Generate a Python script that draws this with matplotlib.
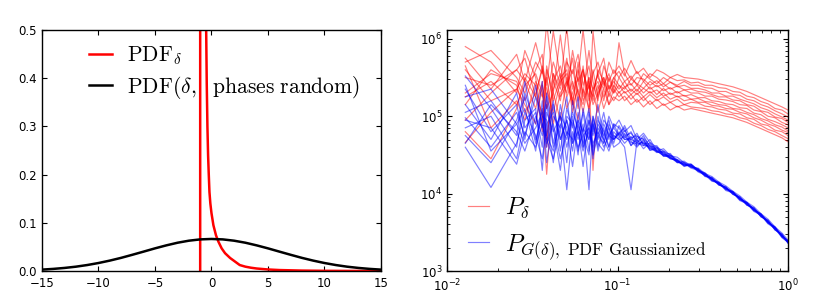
import numpy as np
import matplotlib
matplotlib.use('Agg')
import matplotlib.pyplot as plt

plt.rcParams['mathtext.fontset'] = 'cm'
plt.rcParams['font.family'] = ['DejaVu Sans']

# --- left panel: PDFs ---
pdf_x = [-15, -14, -13, -12, -11, -10, -9, -8, -7, -6, -5, -4, -3, -2, -1, 0,
         1, 2, 3, 4, 5, 6, 7, 8, 9, 10, 11, 12, 13, 14, 15]
pdf_gauss = [0.0029, 0.0044, 0.0064, 0.0090, 0.0124, 0.0166, 0.0216, 0.0273, 0.0337,
             0.0403, 0.0470, 0.0532, 0.0587, 0.0629, 0.0656, 0.0665, 0.0656, 0.0629,
             0.0587, 0.0532, 0.0470, 0.0403, 0.0337, 0.0273, 0.0216, 0.0166, 0.0124,
             0.0090, 0.0064, 0.0044, 0.0029]

delta_x = [-1.0, -0.995, -0.9, -0.7, -0.55, -0.47, -0.42, -0.36, -0.3, -0.24, -0.18,
           -0.1, 0.0, 0.17, 0.4, 0.61, 0.9, 1.2, 1.65, 2.0, 2.5, 3.0, 3.5, 4.0, 5.0,
           6.0, 8.0, 10.0, 12.0, 15.0]
pdf_delta = [0.0, 6.0, 2.0, 0.9, 0.62, 0.5, 0.39, 0.30, 0.24, 0.2, 0.164,
             0.14, 0.12, 0.095, 0.074, 0.061, 0.047, 0.037, 0.027, 0.021, 0.0124,
             0.009, 0.0068, 0.0052, 0.0032, 0.002, 0.0009, 0.0004, 0.0002, 0.0001]

# --- right panel: power spectra, log10(P) per line ---
k = [0.0128, 0.0181, 0.0256, 0.0286, 0.0331, 0.0362, 0.0384, 0.0420, 0.0462, 0.0504,
     0.0545, 0.0587, 0.0628, 0.0680, 0.0718, 0.0768, 0.0830, 0.0890, 0.0950, 0.102,
     0.110, 0.120, 0.130, 0.142, 0.155, 0.170, 0.186, 0.204, 0.224, 0.246, 0.270,
     0.297, 0.326, 0.358, 0.393, 0.432, 0.475, 0.522, 0.574, 0.631, 0.694, 0.763,
     0.839, 0.922, 1.0]

logP_red = [
    [5.90, 5.70, 5.30, 5.85, 5.50, 4.95, 5.60, 5.30, 6.05, 5.40, 5.75, 5.20, 5.65, 5.05, 6.10, 5.50, 5.35, 5.70, 5.55,
     5.65, 5.52, 5.72, 5.55, 5.62, 5.50, 5.60, 5.56, 5.50, 5.54, 5.50, 5.49,
     5.48, 5.46, 5.44, 5.42, 5.40, 5.38, 5.35, 5.32, 5.28, 5.24, 5.20, 5.16, 5.12, 5.08],
    [5.75, 5.35, 5.80, 5.45, 5.95, 5.60, 5.25, 5.70, 5.40, 6.15, 5.35, 5.60, 5.30, 5.85, 5.45, 5.20, 5.65, 5.45, 5.60,
     5.50, 5.62, 5.48, 5.58, 5.45, 5.55, 5.50, 5.42, 5.50, 5.46, 5.47, 5.43,
     5.44, 5.40, 5.40, 5.37, 5.36, 5.32, 5.31, 5.26, 5.24, 5.19, 5.16, 5.10, 5.08, 5.03],
    [5.70, 5.85, 5.50, 5.30, 5.70, 5.55, 6.20, 5.45, 5.20, 5.70, 5.55, 5.80, 5.40, 5.65, 5.30, 5.55, 5.75, 5.35, 5.50,
     5.58, 5.45, 5.52, 5.40, 5.55, 5.48, 5.42, 5.50, 5.44, 5.40, 5.45, 5.40,
     5.40, 5.37, 5.36, 5.32, 5.32, 5.28, 5.27, 5.22, 5.20, 5.15, 5.12, 5.07, 5.03, 4.99],
    [5.50, 5.40, 5.60, 5.75, 5.25, 5.65, 5.40, 6.10, 5.50, 5.30, 5.85, 5.45, 5.60, 5.25, 5.55, 5.70, 5.40, 5.55, 5.35,
     5.95, 5.55, 5.40, 5.50, 5.48, 5.40, 5.46, 5.38, 5.44, 5.38, 5.40, 5.36,
     5.36, 5.34, 5.30, 5.30, 5.26, 5.26, 5.22, 5.19, 5.16, 5.11, 5.08, 5.03, 4.99, 4.95],
    [5.30, 5.55, 5.45, 5.20, 5.60, 5.80, 5.10, 5.55, 5.35, 5.75, 5.20, 5.50, 6.12, 5.40, 5.25, 5.60, 5.45, 5.30, 5.50,
     5.40, 5.35, 5.48, 5.42, 5.36, 5.45, 5.38, 5.42, 5.35, 5.39, 5.34, 5.35,
     5.32, 5.31, 5.28, 5.25, 5.25, 5.21, 5.20, 5.15, 5.13, 5.07, 5.05, 4.99, 4.97, 4.92],
    [5.60, 5.20, 5.35, 5.55, 5.40, 4.80, 5.65, 5.20, 5.50, 5.60, 5.15, 5.70, 5.25, 5.50, 5.35, 5.45, 5.20, 5.50, 5.30,
     5.50, 5.38, 5.42, 5.32, 5.45, 5.35, 5.40, 5.33, 5.37, 5.30, 5.34, 5.30,
     5.30, 5.26, 5.26, 5.22, 5.21, 5.19, 5.15, 5.14, 5.08, 5.06, 5.00, 4.98, 4.92, 4.89],
    [5.25, 5.45, 5.15, 5.40, 5.55, 5.30, 4.70, 5.45, 5.65, 5.25, 5.45, 5.10, 5.55, 5.35, 5.60, 5.25, 5.50, 5.35, 5.45,
     5.35, 5.45, 5.32, 5.40, 5.30, 5.38, 5.28, 5.36, 5.28, 5.32, 5.26, 5.28,
     5.24, 5.24, 5.20, 5.19, 5.16, 5.15, 5.11, 5.10, 5.04, 5.02, 4.96, 4.93, 4.89, 4.85],
    [5.15, 5.60, 5.40, 5.05, 5.30, 5.60, 5.35, 5.05, 5.45, 5.55, 5.05, 5.40, 5.60, 5.20, 5.35, 5.55, 5.25, 5.40, 5.30,
     5.40, 5.30, 5.35, 5.28, 5.36, 5.30, 5.34, 5.26, 5.30, 5.25, 5.27, 5.22,
     5.23, 5.19, 5.18, 5.15, 5.14, 5.10, 5.09, 5.05, 5.02, 4.97, 4.94, 4.89, 4.86, 4.81],
    [4.95, 5.30, 5.60, 5.45, 5.10, 5.45, 4.60, 5.55, 5.25, 5.40, 5.60, 5.30, 5.15, 5.50, 4.30, 5.35, 5.50, 5.25, 5.40,
     5.30, 5.38, 5.28, 5.35, 5.25, 5.32, 5.24, 5.30, 5.22, 5.26, 5.20, 5.22,
     5.18, 5.18, 5.14, 5.13, 5.10, 5.09, 5.05, 5.03, 4.98, 4.95, 4.90, 4.87, 4.82, 4.79],
    [4.80, 4.45, 5.10, 5.50, 5.25, 5.05, 4.25, 5.35, 5.55, 5.10, 5.30, 5.50, 5.20, 5.40, 5.15, 5.30, 5.45, 5.15, 5.35,
     5.25, 5.32, 5.22, 5.30, 5.20, 5.28, 5.20, 5.25, 5.18, 5.22, 5.15, 5.18,
     5.17, 5.13, 5.12, 5.09, 5.08, 5.04, 5.03, 4.98, 4.96, 4.90, 4.88, 4.82, 4.80, 4.75],
    [5.65, 4.85, 5.20, 4.95, 5.45, 5.25, 5.50, 4.90, 5.30, 5.45, 5.15, 5.35, 5.05, 5.45, 5.20, 5.40, 5.10, 5.30, 5.20,
     5.32, 5.20, 5.28, 5.18, 5.25, 5.15, 5.22, 5.14, 5.18, 5.12, 5.15, 5.12,
     5.11, 5.10, 5.07, 5.06, 5.03, 5.02, 4.98, 4.96, 4.91, 4.88, 4.83, 4.80, 4.75, 4.71],
    [4.66, 5.05, 5.35, 5.15, 4.90, 5.40, 5.10, 5.30, 4.95, 5.50, 5.20, 4.95, 5.35, 5.10, 5.30, 5.05, 5.35, 5.15, 5.25,
     5.20, 5.26, 5.15, 5.22, 5.12, 5.20, 5.10, 5.16, 5.08, 5.13, 5.08, 5.10,
     5.08, 5.06, 5.04, 5.02, 5.00, 4.98, 4.95, 4.92, 4.88, 4.84, 4.80, 4.76, 4.72, 4.67],
]

logP_blue = [
    [5.52, 5.10, 4.60, 5.30, 4.90, 5.45, 4.75, 5.20, 4.55, 5.10, 4.85, 5.25, 4.60, 5.05, 4.80, 5.15, 4.70, 5.00, 4.85,
     4.95, 4.80, 4.88, 4.70, 4.78, 4.66, 4.60, 4.55, 4.50, 4.44, 4.40, 4.34,
     4.33, 4.26, 4.22, 4.15, 4.10, 4.03, 3.97, 3.89, 3.83, 3.74, 3.67, 3.57, 3.49, 3.40],
    [5.35, 4.80, 5.15, 4.70, 5.40, 4.85, 5.25, 4.65, 5.05, 4.40, 5.20, 4.75, 5.05, 4.55, 5.00, 4.75, 5.05, 4.70, 4.90,
     4.75, 4.88, 4.70, 4.78, 4.62, 4.70, 4.55, 4.58, 4.49, 4.47, 4.40, 4.38,
     4.30, 4.27, 4.18, 4.15, 4.06, 4.03, 3.93, 3.89, 3.79, 3.74, 3.63, 3.57, 3.45, 3.39],
    [5.25, 5.35, 4.90, 5.10, 4.55, 5.20, 4.40, 5.00, 4.85, 5.25, 4.65, 4.95, 4.80, 5.10, 4.45, 4.95, 4.80, 4.60, 4.90,
     4.85, 4.72, 4.80, 4.65, 4.75, 4.60, 4.62, 4.50, 4.52, 4.40, 4.42, 4.35,
     4.32, 4.24, 4.20, 4.12, 4.08, 4.00, 3.95, 3.86, 3.81, 3.71, 3.65, 3.54, 3.47, 3.37],
    [5.15, 4.70, 5.30, 4.85, 5.05, 4.60, 5.30, 4.85, 4.30, 5.00, 4.90, 4.50, 5.10, 4.70, 4.95, 4.60, 4.90, 4.75, 4.70,
     4.78, 4.85, 4.62, 4.74, 4.70, 4.58, 4.60, 4.48, 4.50, 4.42, 4.38, 4.36,
     4.29, 4.26, 4.17, 4.14, 4.05, 4.02, 3.92, 3.88, 3.78, 3.73, 3.62, 3.56, 3.44, 3.38],
    [5.05, 5.20, 4.75, 5.45, 4.70, 5.00, 4.95, 4.40, 5.15, 4.75, 5.05, 4.85, 4.35, 4.95, 4.75, 5.00, 4.65, 4.90, 4.75,
     4.70, 4.60, 4.05, 4.68, 4.72, 4.62, 4.54, 4.54, 4.46, 4.43, 4.37, 4.38,
     4.31, 4.23, 4.20, 4.11, 4.09, 3.99, 3.96, 3.85, 3.82, 3.70, 3.66, 3.53, 3.48, 3.36],
    [4.98, 4.60, 5.05, 4.75, 5.25, 4.90, 4.60, 5.15, 4.70, 4.95, 4.55, 5.05, 4.75, 4.50, 5.00, 4.70, 4.95, 4.85, 4.65,
     4.88, 4.75, 4.78, 4.68, 4.65, 4.64, 4.56, 4.49, 4.48, 4.41, 4.39, 4.33,
     4.30, 4.25, 4.19, 4.13, 4.07, 4.02, 3.94, 3.88, 3.80, 3.73, 3.64, 3.56, 3.46, 3.39],
    [4.85, 5.00, 4.45, 4.95, 5.10, 4.30, 5.05, 4.80, 5.00, 4.60, 4.95, 4.70, 4.90, 4.05, 4.90, 4.55, 4.85, 4.60, 4.80,
     4.72, 4.82, 4.68, 4.60, 4.70, 4.56, 4.58, 4.51, 4.45, 4.44, 4.36, 4.37,
     4.28, 4.24, 4.16, 4.14, 4.04, 4.01, 3.91, 3.87, 3.77, 3.72, 3.61, 3.55, 3.43, 3.37],
    [4.75, 4.40, 4.95, 5.25, 4.65, 5.10, 4.75, 4.55, 5.00, 4.85, 4.35, 4.90, 4.65, 4.95, 4.55, 4.90, 4.75, 4.95, 4.70,
     4.80, 4.70, 4.72, 4.75, 4.64, 4.60, 4.53, 4.55, 4.47, 4.40, 4.40, 4.34,
     4.32, 4.22, 4.21, 4.11, 4.08, 3.99, 3.95, 3.85, 3.81, 3.70, 3.65, 3.53, 3.47, 3.36],
    [4.65, 5.15, 4.80, 4.55, 5.00, 4.75, 5.15, 4.60, 4.90, 4.70, 5.00, 4.55, 4.85, 4.70, 4.90, 4.65, 4.55, 4.80, 4.60,
     4.65, 4.78, 4.62, 4.70, 4.58, 4.66, 4.55, 4.50, 4.49, 4.43, 4.35, 4.38,
     4.29, 4.25, 4.18, 4.12, 4.06, 4.02, 3.93, 3.87, 3.79, 3.72, 3.63, 3.55, 3.45, 3.38],
    [4.60, 4.08, 4.65, 5.05, 4.75, 4.45, 4.90, 5.05, 4.70, 4.95, 4.65, 4.80, 4.55, 4.85, 4.65, 4.80, 4.60, 4.75, 4.85,
     4.75, 4.65, 4.74, 4.62, 4.68, 4.56, 4.59, 4.52, 4.46, 4.42, 4.38, 4.35,
     4.31, 4.24, 4.20, 4.13, 4.07, 4.01, 3.94, 3.88, 3.79, 3.73, 3.63, 3.56, 3.45, 3.39],
    [5.40, 4.55, 4.90, 4.65, 4.85, 5.05, 4.65, 4.90, 4.45, 4.80, 4.70, 4.95, 4.60, 4.80, 4.60, 4.85, 4.70, 4.55, 4.75,
     4.70, 4.74, 4.66, 4.64, 4.66, 4.58, 4.55, 4.49, 4.47, 4.41, 4.37, 4.36,
     4.30, 4.26, 4.17, 4.14, 4.06, 4.02, 3.92, 3.88, 3.78, 3.74, 3.62, 3.57, 3.44, 3.39],
    [4.95, 4.85, 4.38, 4.80, 4.60, 4.90, 4.70, 4.45, 4.85, 4.05, 4.80, 4.60, 4.75, 4.85, 4.50, 4.75, 4.65, 4.85, 4.70,
     4.78, 4.70, 4.70, 4.66, 4.62, 4.62, 4.54, 4.53, 4.45, 4.43, 4.36, 4.37,
     4.31, 4.23, 4.19, 4.12, 4.08, 4.00, 3.94, 3.86, 3.80, 3.71, 3.64, 3.54, 3.46, 3.37],
]


def style_axes(ax):
    ax.tick_params(which='both', direction='in', top=True, right=True, labelsize=8.5)
    ax.tick_params(which='major', length=3.5, width=0.8)
    ax.tick_params(which='minor', length=2, width=0.6)
    ax.tick_params(axis='x', pad=4.5)
    for s in ax.spines.values():
        s.set_linewidth(1.0)


fig = plt.figure(figsize=(8.3, 3.02), dpi=100)

# === left ===
ax1 = fig.add_axes([0.0506, 0.1026, 0.4084, 0.798])
ax1.plot(delta_x, pdf_delta, color='red', lw=1.8, label=r'$\mathrm{PDF}_\delta$')
ax1.plot(pdf_x, pdf_gauss, color='black', lw=1.8,
         label=r'$\mathrm{PDF}(\delta,\ \ \mathrm{phases\ random})$')
ax1.set_xlim(-15, 15)
ax1.set_ylim(0, 0.5)
ax1.set_xticks([-15, -10, -5, 0, 5, 10, 15])
ax1.set_yticks([0.0, 0.1, 0.2, 0.3, 0.4, 0.5])
ax1.yaxis.set_major_formatter(matplotlib.ticker.FormatStrFormatter('%.1f'))
style_axes(ax1)
ax1.legend(loc='upper left', bbox_to_anchor=(0.093, 1.002), frameon=False,
           fontsize=15.5, handlelength=1.1, handletextpad=0.7, labelspacing=0.3,
           borderpad=0.2)

# === right ===
ax2 = fig.add_axes([0.5386, 0.1026, 0.4108, 0.798])
for i, row in enumerate(logP_red):
    ax2.plot(k, 10 ** np.array(row), color='red', lw=0.85, alpha=0.5,
             label=r'$P_\delta$' if i == 0 else None)
for i, row in enumerate(logP_blue):
    ax2.plot(k, 10 ** np.array(row), color='blue', lw=0.85, alpha=0.5,
             label=r'$P_{G(\delta),\ \mathrm{PDF\ Gaussianized}}$' if i == 0 else None)
ax2.set_xscale('log')
ax2.set_yscale('log')
ax2.set_xlim(1e-2, 1)
ax2.set_ylim(1e3, 1.3e6)
style_axes(ax2)
ax2.legend(loc='lower left', bbox_to_anchor=(0.027, -0.013), frameon=False,
           fontsize=17.5, handlelength=0.86, handletextpad=0.65, labelspacing=0.47,
           borderpad=0.0)

fig.savefig('out.png', dpi=100)
